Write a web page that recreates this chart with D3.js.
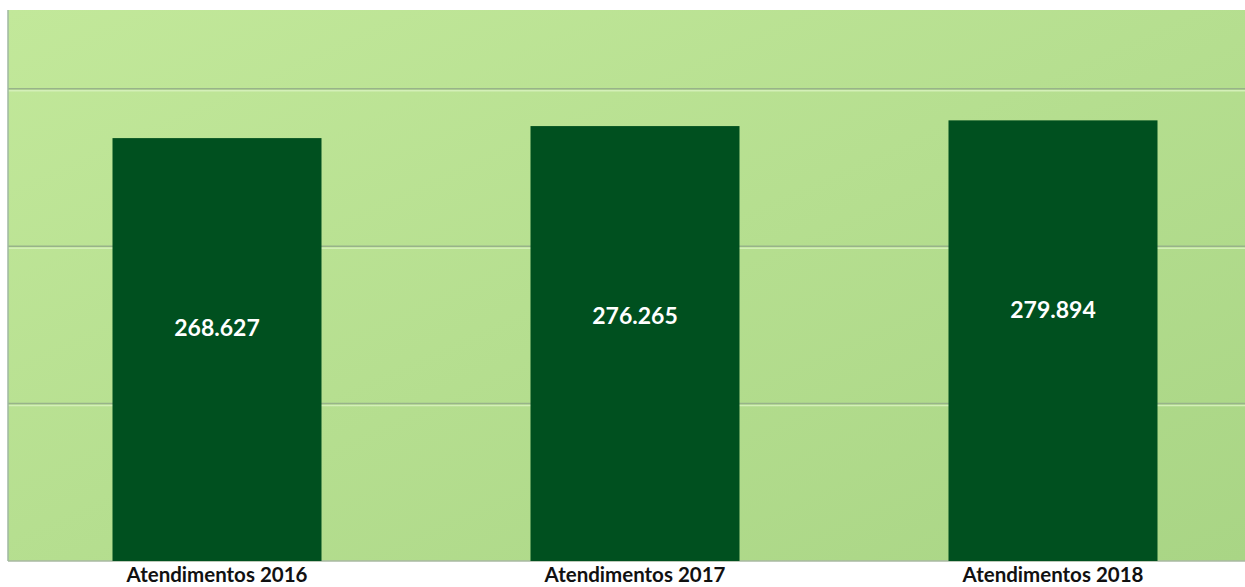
<!DOCTYPE html>
<html>
<head>
<meta charset="utf-8">
<script src="https://cdn.jsdelivr.net/npm/d3@7"></script>
<style>
  body { margin: 0; background: #fff; }
  text { font-family: Lato, "Open Sans", sans-serif; font-weight: bold; }
</style>
</head>
<body>
<svg width="1245" height="587"></svg>
<script>
const categories = ["Atendimentos 2016", "Atendimentos 2017", "Atendimentos 2018"];
const values = [268627, 276265, 279894];
const valueLabels = ["268.627", "276.265", "279.894"];
const gridTicks = [100000, 200000, 300000];

const svg = d3.select("svg"),
  width = +svg.attr("width"),
  height = +svg.attr("height");

const plot = { left: 8, top: 10, right: 1245, bottom: 561 };

// background gradient
const defs = svg.append("defs");
const grad = defs.append("linearGradient")
  .attr("id", "bg")
  .attr("x1", 0).attr("y1", 0).attr("x2", 1).attr("y2", 1);
grad.append("stop").attr("offset", "0%").attr("stop-color", "#c2e89a");
grad.append("stop").attr("offset", "100%").attr("stop-color", "#a9d585");

svg.append("rect")
  .attr("x", plot.left)
  .attr("y", plot.top)
  .attr("width", plot.right - plot.left)
  .attr("height", plot.bottom - plot.top)
  .attr("fill", "url(#bg)");

const x = d3.scaleBand()
  .domain(categories)
  .range([plot.left, 1262])
  .paddingInner(0.5)
  .paddingOuter(0.25);

const y = d3.scaleLinear()
  .domain([0, 350000])
  .range([plot.bottom, plot.top]);

// gridlines
const grid = svg.append("g").attr("class", "grid");
grid.selectAll("line.hi")
  .data(gridTicks)
  .enter().append("line")
  .attr("class", "hi")
  .attr("x1", plot.left).attr("x2", plot.right)
  .attr("y1", d => y(d) + 2).attr("y2", d => y(d) + 2)
  .attr("stroke", "#d4efb8")
  .attr("stroke-width", 1.5);
grid.selectAll("line.main")
  .data(gridTicks)
  .enter().append("line")
  .attr("class", "main")
  .attr("x1", plot.left).attr("x2", plot.right)
  .attr("y1", d => y(d)).attr("y2", d => y(d))
  .attr("stroke", "#98b38a")
  .attr("stroke-width", 1.5);

// frame lines
svg.append("line")
  .attr("x1", plot.left).attr("x2", plot.left)
  .attr("y1", plot.top).attr("y2", plot.bottom)
  .attr("stroke", "#9fb8a0").attr("stroke-width", 1.5);
svg.append("line")
  .attr("x1", plot.left).attr("x2", plot.right)
  .attr("y1", plot.bottom).attr("y2", plot.bottom)
  .attr("stroke", "#a9b8a2").attr("stroke-width", 1.5);

// bars
svg.append("g")
  .selectAll("rect")
  .data(values)
  .enter().append("rect")
  .attr("x", (d, i) => x(categories[i]))
  .attr("y", d => y(d))
  .attr("width", x.bandwidth())
  .attr("height", d => y(0) - y(d))
  .attr("fill", "#00501f");

// value labels
svg.append("g")
  .selectAll("text")
  .data(values)
  .enter().append("text")
  .attr("x", (d, i) => x(categories[i]) + x.bandwidth() / 2)
  .attr("y", d => y(d) + 198)
  .attr("text-anchor", "middle")
  .attr("fill", "#ffffff")
  .attr("font-size", "23px")
  .text((d, i) => valueLabels[i]);

// category labels
svg.append("g")
  .selectAll("text")
  .data(categories)
  .enter().append("text")
  .attr("x", d => x(d) + x.bandwidth() / 2)
  .attr("y", 582)
  .attr("text-anchor", "middle")
  .attr("fill", "#111")
  .attr("font-size", "20.5px")
  .text(d => d);
</script>
</body>
</html>
